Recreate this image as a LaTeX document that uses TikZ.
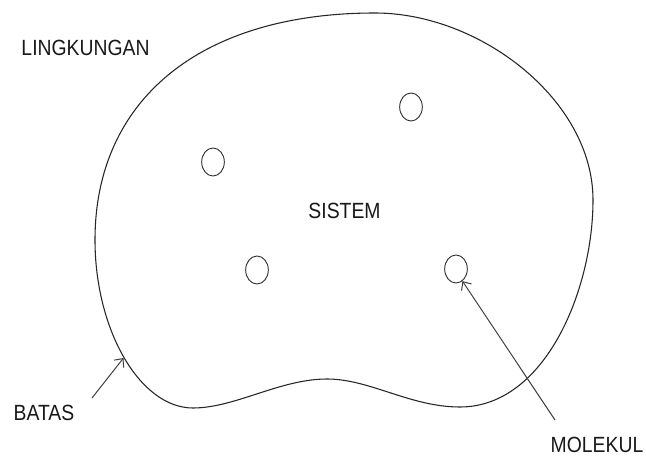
\documentclass[tikz,border=0pt]{standalone}
\usepackage{fontspec}
\setmainfont{Liberation Sans}
\usetikzlibrary{arrows.meta,shapes.geometric}
\begin{document}
\begin{tikzpicture}[x=0.75pt,y=-0.75pt,
  lbl/.style={inner sep=0pt,font=\fontsize{16.5pt}{19pt}\selectfont,text=black!90,xscale=0.88},
  molc/.style={draw=black!80,line width=0.7pt,ellipse,minimum width=17pt,minimum height=21pt,inner sep=0pt},
  pointer/.style={draw=black!75,line width=0.75pt,-{Straight Barb[length=5pt,width=9pt]}},
  outline/.style={draw=black!85,line width=0.8pt}]
\useasboundingbox (0,0) rectangle (646,456);
\fill[white] (0,0) rectangle (646,456);
% boundary
\draw[outline] (375,13)
  .. controls (480,13) and (593,100) .. (593,200)
  .. controls (593,290) and (545,407) .. (460,407)
  .. controls (410,407) and (370,379) .. (327,379)
  .. controls (280,379) and (235,408) .. (193,408)
  .. controls (140,408) and (95,330) .. (95,240)
  .. controls (95,100) and (200,13) .. (375,13) -- cycle;
% labels
\node[lbl] (env) at (85.5,47.5) {LINGKUNGAN};
\node[lbl] (sys) at (344.5,210.5) {SISTEM};
\node[lbl] (bat) at (44,413) {BATAS};
\node[lbl] (mol) at (597,444.5) {MOLEKUL};
% molecules
\node[molc] (m1) at (213,162) {};
\node[molc] (m2) at (411,107) {};
\node[molc] (m3) at (257,270) {};
\node[molc] (m4) at (456,269) {};
% pointers
\coordinate (battail) at (92,398);
\coordinate (battip) at (123.5,358);
\coordinate (moltail) at (555,420);
\draw[pointer] (battail) -- (battip);
\draw[pointer] (moltail) -- (m4.-62);
\end{tikzpicture}
\end{document}
